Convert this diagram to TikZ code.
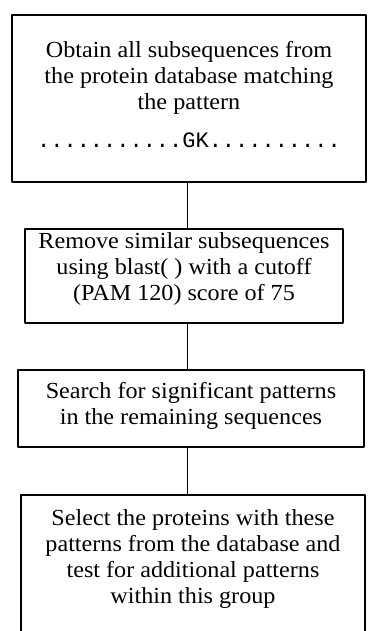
\documentclass[tikz,border=0pt]{standalone}
\usepackage{fontspec}
\setmainfont{Liberation Serif}[FakeStretch=1.05]
\setmonofont{Liberation Mono}
\usetikzlibrary{positioning}

\tikzset{
	stepbox/.style={draw, line width=2pt, outer sep=0pt, inner xsep=0pt, anchor=north, align=center,
		font=\fontsize{23}{26}\selectfont},
	link/.style={line width=1.5pt}
}

\begin{document}
\begin{tikzpicture}[x=1pt, y=-1pt, line join=round]
			\clip (0,0) rectangle (367,631);
			\path (187.5,0) coordinate (spine);
			
			\node[stepbox, minimum width=354pt, inner ysep=26.3pt, text depth=8.7pt] (obtain) at (189,15)
			{Obtain all subsequences from\\the protein database matching\\the pattern\\[12pt]
			{\ttfamily\fontsize{22}{26}\selectfont ...........GK..........}};
			
			\node[stepbox, minimum width=318pt, inner ysep=3.3pt, text depth=19.7pt] (remove) at (184,229)
			{Remove similar subsequences\\using blast( ) with a cutoff\\(PAM 120) score of 75};
			
			\node[stepbox, minimum width=346pt, inner ysep=12.3pt, text depth=10.7pt] (search) at (191,370)
			{Search for significant patterns\\in the remaining sequences};
			
			\node[stepbox, minimum width=344pt, inner ysep=14.3pt, text depth=60pt] (select) at (193,495)
			{Select the proteins with these\\patterns from the database and\\test for additional patterns\\within this group};
			
			\foreach \from/\to in {obtain/remove, remove/search, search/select}
			\draw[link] (\from.south -| spine) -- (\to.north -| spine);
		\end{tikzpicture}
\end{document}
